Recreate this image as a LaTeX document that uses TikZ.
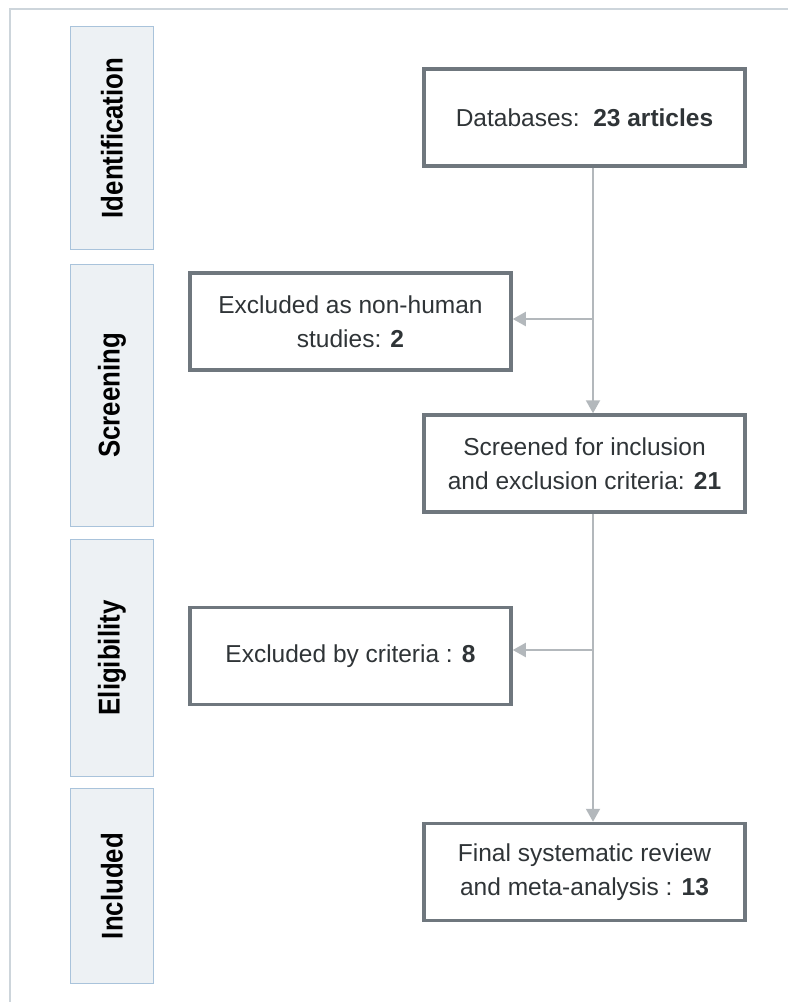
\documentclass[tikz,border=0pt]{standalone}
\usepackage{fontspec}
\setmainfont{Liberation Sans}
\newfontfamily\sidefont[FakeStretch=0.86]{Liberation Sans}
\usetikzlibrary{arrows.meta}
\definecolor{boxline}{HTML}{6F777E}
\definecolor{arrcol}{HTML}{B3B8BC}
\definecolor{sidefill}{HTML}{EDF1F4}
\definecolor{sideline}{HTML}{A9C3DB}
\definecolor{framecol}{HTML}{CDD5DB}
\definecolor{txt}{HTML}{2F3437}
\tikzset{
  x=1pt, y=-1pt,
  mainbox/.style={draw=boxline, line width=3.5pt, fill=white, minimum width=321pt, minimum height=97pt,
    align=center, text=txt, font=\fontsize{24.5}{34}\selectfont, inner sep=0pt},
  sidebox/.style={draw=sideline, line width=1.5pt, fill=sidefill, minimum width=83pt, inner sep=0pt},
  sidelabel/.style={rotate=90, text=black, font=\sidefont\bfseries\fontsize{30}{30}\selectfont},
  arr/.style={draw=arrcol, line width=2pt, -{Triangle[width=14pt,length=13pt]}}
}
\begin{document}
\begin{tikzpicture}
\useasboundingbox (0,0) rectangle (788,1002);
\draw[framecol, line width=1.5pt] (10,1002) -- (10,9) -- (788,9);
% side boxes
\node[sidebox, minimum height=223pt] (sid) at (112,138) {};
\node[sidelabel] (lid) at (sid.center) {Identification};
\node[sidebox, minimum height=262pt] (ssc) at (112,395.5) {};
\node[sidelabel] (lsc) at (ssc.center) {Screening};
\node[sidebox, minimum height=237pt] (sel) at (112,658) {};
\node[sidelabel] (lel) at (sel.center) {Eligibility};
\node[sidebox, minimum height=195pt] (sin) at (112,886) {};
\node[sidelabel] (lin) at (sin.center) {Included};
% main boxes
\node[mainbox] (db) at (584.5,117.5) {Databases:\ \ \textbf{23 articles}};
\node[mainbox] (ex1) at (350.5,321.5) {Excluded as non-human\\studies: \textbf{2}};
\node[mainbox] (scr) at (584.5,463.5) {Screened for inclusion\\and exclusion criteria: \textbf{21}};
\node[mainbox] (ex2) at (350.5,656) {Excluded by criteria : \textbf{8}};
\node[mainbox] (fin) at (584.5,872) {Final systematic review\\and meta-analysis : \textbf{13}};
% connectors
\coordinate (j1) at (593,319);
\coordinate (j2) at (593,650);
\draw[arr] (db.south -| j1) -- (scr.north -| j1);
\draw[arr] (j1) -- (j1 -| ex1.east);
\draw[arr] (scr.south -| j2) -- (fin.north -| j2);
\draw[arr] (j2) -- (j2 -| ex2.east);
\end{tikzpicture}
\end{document}
